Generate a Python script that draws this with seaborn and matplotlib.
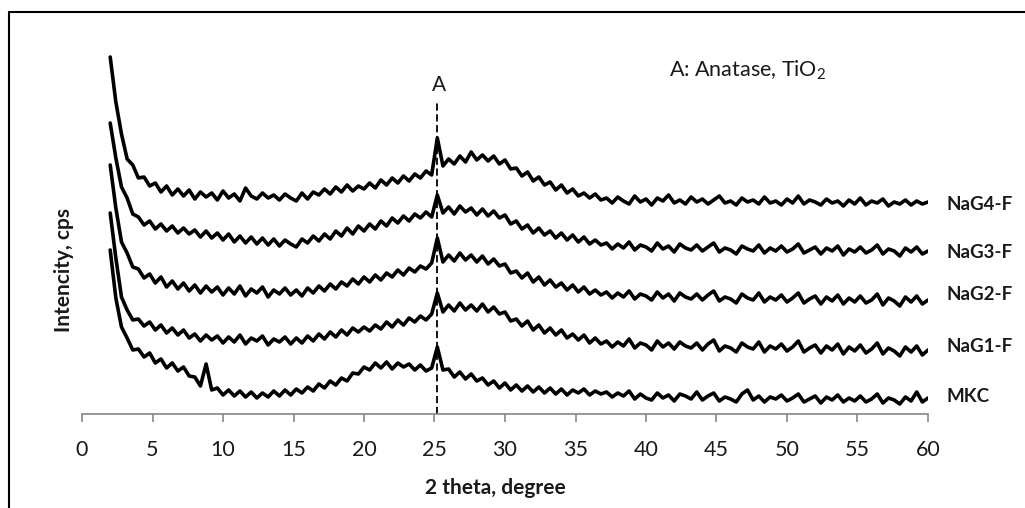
import numpy as np
import pandas as pd
import matplotlib.pyplot as plt
from matplotlib.lines import Line2D
import seaborn as sns

# 2 theta grid, 0.4 degree step
two_theta = np.round(np.arange(2.0, 60.001, 0.4), 1)

nag4 = [357, 312, 280, 255, 249, 236, 237, 228, 231, 222, 228, 219, 225, 218, 224,
        215, 222, 217, 221, 214, 223, 216, 220, 213, 226, 218, 215, 221, 216, 219,
        214, 220, 216, 213, 221, 215, 222, 219, 225, 220, 227, 222, 229, 223, 228,
        225, 231, 226, 234, 229, 236, 231, 238, 233, 240, 236, 243, 239,
        276,
        248, 255, 250, 258, 252, 262, 254, 259, 253, 258, 250, 254, 245, 246,
        238, 242, 233, 237, 229, 232, 224, 229, 221, 225, 218, 221, 216, 220, 214,
        216, 211, 217, 213, 210, 218, 212, 215, 209, 216, 213, 219, 211, 214, 210,
        217, 212, 215, 210, 214, 218, 211, 213, 209, 216, 212, 214, 210, 217, 211,
        213, 209, 215, 211, 218, 210, 214, 212, 209, 215, 211, 213, 208, 214, 210,
        216, 209, 213, 211, 215, 208, 212, 210, 214, 209, 213, 210, 212]

nag3 = [291, 256, 227, 216, 200, 197, 189, 193, 185, 190, 183, 188, 181, 186, 180,
        184, 177, 183, 176, 181, 174, 180, 172, 178, 171, 177, 170, 176, 169, 175,
        168, 174, 170, 167, 175, 171, 178, 173, 180, 175, 183, 178, 186, 180, 188,
        183, 190, 185, 193, 188, 196, 191, 198, 193, 200, 196, 202, 197,
        219,
        201, 207, 200, 208, 202, 206, 199, 205, 198, 203, 196, 199, 190, 193,
        185, 189, 181, 186, 179, 183, 176, 181, 174, 179, 172, 177, 170, 174, 169,
        171, 165, 170, 166, 172, 164, 169, 167, 163, 171, 165, 168, 162, 170, 166,
        164, 169, 163, 167, 171, 162, 166, 164, 160, 168, 165, 163, 169, 161, 166,
        163, 168, 162, 165, 170, 161, 164, 167, 160, 166, 163, 168, 159, 165, 162,
        167, 161, 164, 169, 160, 165, 163, 158, 166, 162, 167, 160, 163]

nag2 = [249, 206, 172, 161, 147, 145, 136, 140, 131, 137, 127, 133, 125, 131, 123,
        129, 121, 128, 122, 127, 119, 126, 120, 128, 118, 125, 121, 127, 117, 124,
        120, 126, 119, 124, 118, 126, 121, 128, 123, 130, 125, 132, 128, 135, 130,
        137, 132, 139, 134, 141, 137, 144, 139, 146, 142, 148, 145, 151,
        176,
        152, 159, 153, 161, 154, 159, 152, 158, 150, 155, 148, 150, 141, 143,
        136, 141, 132, 137, 129, 134, 127, 131, 124, 129, 122, 127, 120, 124, 119,
        122, 116, 121, 117, 123, 115, 120, 118, 114, 122, 116, 120, 113, 121, 117,
        115, 120, 114, 119, 123, 113, 117, 115, 111, 120, 116, 114, 121, 112, 117,
        114, 119, 112, 116, 121, 111, 115, 118, 110, 117, 113, 119, 110, 116, 112,
        118, 111, 114, 120, 109, 116, 113, 108, 117, 112, 118, 110, 114]

nag1 = [201, 156, 117, 104, 94, 95, 88, 92, 84, 89, 81, 86, 79, 84, 76,
        80, 73, 79, 74, 78, 71, 77, 72, 79, 70, 76, 73, 78, 69, 75,
        72, 77, 70, 76, 71, 78, 73, 80, 75, 82, 77, 84, 79, 86, 82,
        87, 83, 89, 85, 92, 87, 94, 89, 96, 92, 98, 94, 100,
        121,
        102, 109, 103, 111, 104, 109, 103, 110, 102, 107, 100, 102, 93, 95,
        88, 93, 84, 89, 81, 86, 79, 84, 76, 80, 74, 79, 71, 76, 70,
        73, 67, 72, 68, 75, 66, 71, 69, 64, 73, 67, 71, 65, 72, 68,
        66, 71, 64, 70, 74, 63, 68, 66, 62, 71, 67, 65, 72, 62, 68,
        65, 70, 63, 67, 73, 62, 66, 69, 61, 68, 64, 70, 60, 67, 63,
        69, 61, 65, 71, 60, 66, 63, 58, 67, 62, 68, 59, 64]

mkc = [164, 116, 87, 76, 64, 65, 57, 61, 51, 55, 46, 51, 43, 47, 38,
       37, 28, 50, 24, 26, 19, 24, 18, 23, 17, 22, 16, 21, 17, 23,
       18, 24, 19, 25, 21, 27, 23, 30, 26, 33, 29, 36, 33, 41, 40,
       47, 44, 51, 46, 52, 45, 51, 47, 50, 44, 49, 43, 46,
       67,
       44, 45, 37, 42, 35, 40, 33, 36, 29, 33, 26, 31, 24, 29,
       23, 28, 22, 27, 21, 26, 20, 25, 19, 24, 21, 25, 19, 23, 20,
       22, 17, 21, 18, 23, 15, 20, 16, 14, 21, 16, 19, 13, 20, 18,
       15, 22, 14, 18, 21, 13, 17, 15, 12, 20, 24, 14, 18, 12, 17,
       15, 19, 13, 16, 20, 12, 15, 18, 11, 17, 14, 19, 12, 16, 13,
       18, 12, 15, 20, 11, 16, 14, 10, 17, 13, 22, 12, 16]

samples = ['NaG4-F', 'NaG3-F', 'NaG2-F', 'NaG1-F', 'MKC']
series = [nag4, nag3, nag2, nag1, mkc]
label_y = [210, 161, 119, 68, 18]
anatase_pos = 25.2

# %% long table
frames = []
for name, vals in zip(samples, series):
    frames.append(pd.DataFrame({'two_theta': two_theta, 'intensity': vals, 'sample': name}))
df = pd.concat(frames, ignore_index=True)

sns.set_theme(style='white')
plt.rcParams['font.family'] = ['Lato', 'DejaVu Sans']
plt.rcParams['mathtext.fontset'] = 'custom'
plt.rcParams['mathtext.rm'] = 'Lato'

fig = plt.figure(figsize=(10.25, 5.08), dpi=100)
ax = fig.add_axes([82 / 1025, 94 / 508, 846 / 1025, 384 / 508])

sns.lineplot(data=df, x='two_theta', y='intensity', hue='sample', units='sample',
             estimator=None, palette=['black'] * 5, legend=False, linewidth=2.6, ax=ax)

ax.plot([anatase_pos, anatase_pos], [0, 312], color='black', linestyle=(0, (4, 2)), linewidth=1.3)
ax.text(anatase_pos + 0.1, 329, 'A', ha='center', va='center', fontsize=15, color='#1a1a1a')
ax.text(41.6, 344, r'A: Anatase, TiO$\mathregular{_2}$', ha='left', va='center',
        fontsize=15.5, color='#1a1a1a')

for name, y in zip(samples, label_y):
    ax.text(61.3, y, name, ha='left', va='center', fontsize=13.5, fontweight='bold',
            color='#1a1a1a', clip_on=False)

ax.set_xlim(0, 60)
ax.set_ylim(0, 384)
ax.set_xticks(range(0, 61, 5))
ax.set_yticks([])
ax.set_xlabel('')
ax.set_ylabel('')
for side in ['left', 'right', 'top']:
    ax.spines[side].set_visible(False)
ax.spines['bottom'].set_color('#888888')
ax.spines['bottom'].set_linewidth(1.2)
ax.tick_params(axis='x', direction='out', length=6, width=1.2, color='#888888',
               pad=13, labelsize=15.5, labelcolor='#1a1a1a', bottom=True)

fig.text(495 / 1025, 1 - 488 / 508, '2 theta, degree', ha='center', va='center',
         fontsize=15, fontweight='bold', color='#1a1a1a')
fig.text(64 / 1025, 1 - 270 / 508, 'Intencity, cps', ha='center', va='center',
         rotation=90, fontsize=15, fontweight='bold', color='#1a1a1a')

# frame edges
fig.add_artist(Line2D([9 / 1025, 9 / 1025], [0, 1 - 12 / 508], color='black', linewidth=1.5))
fig.add_artist(Line2D([9 / 1025, 1], [1 - 12 / 508, 1 - 12 / 508], color='black', linewidth=1.5))

fig.savefig('out.png', dpi=100)
